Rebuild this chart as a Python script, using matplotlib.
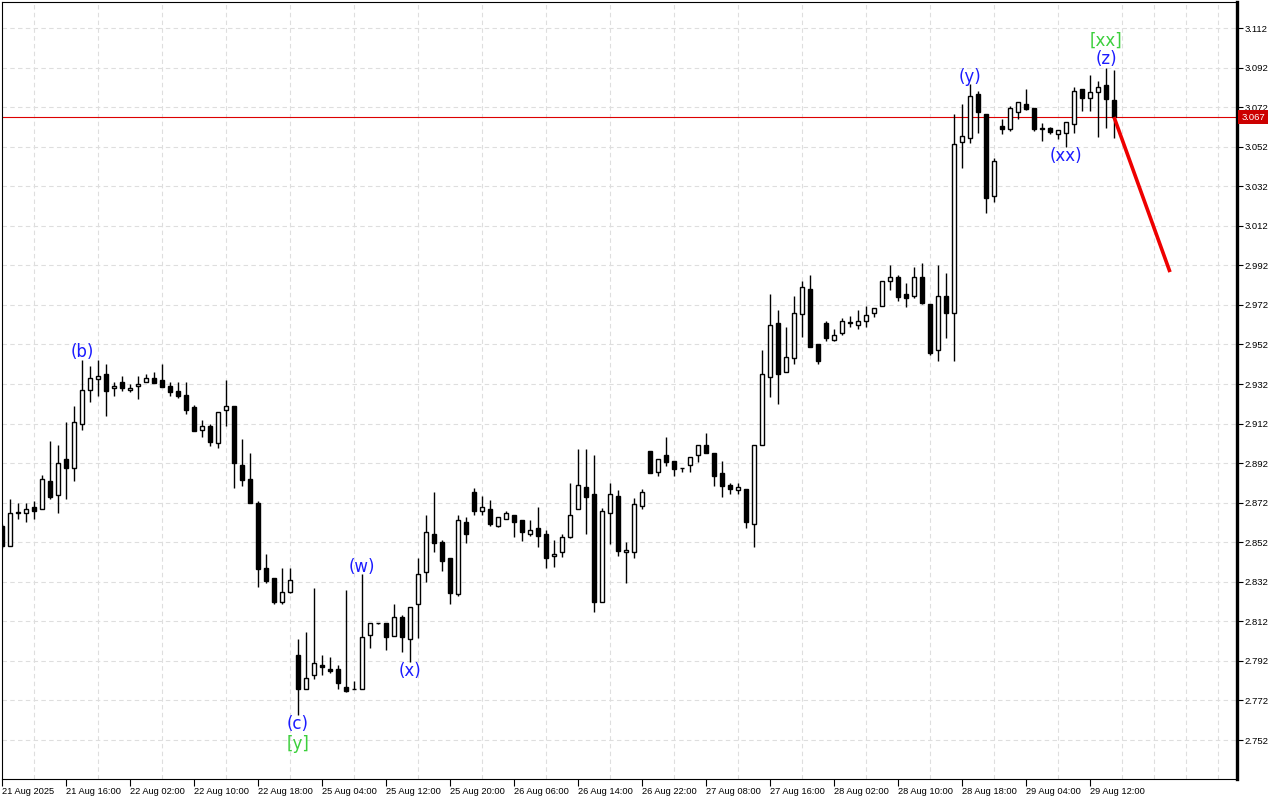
import numpy as np
import matplotlib
matplotlib.use("Agg")
import matplotlib.pyplot as plt
from matplotlib.transforms import blended_transform_factory

# hourly candles
opens = [2.860, 2.850, 2.867, 2.867, 2.870, 2.869, 2.883, 2.876, 2.894, 2.8895,
         2.912, 2.929, 2.9345, 2.937, 2.930, 2.933, 2.929, 2.931, 2.933, 2.935,
         2.934, 2.931, 2.9285, 2.9265, 2.9205, 2.909, 2.911, 2.902, 2.919, 2.921,
         2.891, 2.884, 2.872, 2.839, 2.834, 2.822, 2.827, 2.795, 2.778, 2.785,
         2.790, 2.788, 2.788, 2.779, 2.778, 2.778, 2.805, 2.811, 2.811, 2.8045,
         2.814, 2.803, 2.821, 2.837, 2.856, 2.852, 2.844, 2.826, 2.862, 2.8775,
         2.868, 2.869, 2.860, 2.864, 2.866, 2.863, 2.856, 2.859, 2.856, 2.845,
         2.847, 2.8545, 2.869, 2.880, 2.8765, 2.822, 2.867, 2.8755, 2.847, 2.847,
         2.8705, 2.898, 2.8875, 2.896, 2.893, 2.8895, 2.891, 2.896, 2.901, 2.897,
         2.887, 2.881, 2.8785, 2.879, 2.861, 2.901, 2.9355, 2.963, 2.938, 2.945,
         2.9675, 2.980, 2.952, 2.963, 2.9545, 2.958, 2.963, 2.962, 2.964, 2.968,
         2.9715, 2.984, 2.986, 2.9775, 2.9765, 2.986, 2.9725, 2.949, 2.9765, 2.968,
         3.0545, 3.0565, 3.0785, 3.0685, 3.027, 3.0625, 3.061, 3.0695, 3.0735, 3.0715,
         3.0615, 3.0615, 3.0585, 3.059, 3.0635, 3.081, 3.0765, 3.0795, 3.083, 3.0755]
highs = [2.861, 2.874, 2.872, 2.872, 2.873, 2.886, 2.903, 2.901, 2.913, 2.921,
         2.944, 2.941, 2.944, 2.942, 2.933, 2.936, 2.932, 2.936, 2.937, 2.938,
         2.942, 2.933, 2.933, 2.933, 2.9215, 2.914, 2.912, 2.918, 2.934, 2.921,
         2.904, 2.897, 2.873, 2.846, 2.834, 2.839, 2.839, 2.803, 2.8065, 2.829,
         2.795, 2.794, 2.790, 2.828, 2.782, 2.836, 2.811, 2.8112, 2.811, 2.821,
         2.815, 2.8195, 2.844, 2.866, 2.8775, 2.853, 2.844, 2.866, 2.865, 2.8795,
         2.8755, 2.8735, 2.865, 2.868, 2.866, 2.863, 2.863, 2.870, 2.858, 2.853,
         2.856, 2.882, 2.899, 2.899, 2.896, 2.8695, 2.882, 2.8785, 2.852, 2.8745,
         2.879, 2.898, 2.894, 2.905, 2.893, 2.8897, 2.895, 2.901, 2.907, 2.897,
         2.893, 2.882, 2.882, 2.879, 2.901, 2.949, 2.9775, 2.9695, 2.961, 2.9765,
         2.984, 2.987, 2.952, 2.964, 2.960, 2.9655, 2.9665, 2.9695, 2.9715, 2.9705,
         2.984, 2.992, 2.987, 2.983, 2.991, 2.993, 2.9725, 2.992, 2.988, 3.0685,
         3.0735, 3.0835, 3.080, 3.0685, 3.0465, 3.066, 3.0725, 3.0745, 3.081, 3.0715,
         3.064, 3.062, 3.0605, 3.0645, 3.082, 3.081, 3.088, 3.085, 3.092, 3.091]
lows = [2.849, 2.850, 2.864, 2.862, 2.864, 2.869, 2.874, 2.867, 2.874, 2.883,
        2.909, 2.923, 2.926, 2.916, 2.926, 2.9285, 2.928, 2.9245, 2.933, 2.9325,
        2.9305, 2.926, 2.925, 2.917, 2.908, 2.905, 2.9005, 2.8995, 2.911, 2.8795,
        2.8805, 2.872, 2.8295, 2.8315, 2.821, 2.821, 2.8265, 2.7645, 2.778, 2.783,
        2.785, 2.786, 2.778, 2.7765, 2.778, 2.778, 2.7985, 2.8108, 2.7975, 2.8045,
        2.7965, 2.7915, 2.8035, 2.832, 2.847, 2.8375, 2.821, 2.825, 2.8515, 2.866,
        2.866, 2.860, 2.8595, 2.864, 2.8545, 2.8525, 2.855, 2.8495, 2.839, 2.8395,
        2.8445, 2.854, 2.869, 2.856, 2.8165, 2.822, 2.851, 2.845, 2.8315, 2.844,
        2.869, 2.887, 2.8855, 2.8905, 2.8855, 2.8875, 2.8875, 2.8925, 2.897, 2.8805,
        2.875, 2.8765, 2.8765, 2.859, 2.8495, 2.901, 2.9255, 2.922, 2.938, 2.942,
        2.956, 2.9505, 2.942, 2.9535, 2.9535, 2.957, 2.961, 2.960, 2.961, 2.966,
        2.9715, 2.9795, 2.974, 2.971, 2.9755, 2.9725, 2.9465, 2.9435, 2.9555, 2.9435,
        3.041, 3.054, 3.059, 3.0185, 3.024, 3.0585, 3.060, 3.066, 3.0705, 3.060,
        3.055, 3.0585, 3.056, 3.052, 3.059, 3.070, 3.070, 3.057, 3.0615, 3.0565]
closes = [2.850, 2.867, 2.8675, 2.869, 2.868, 2.884, 2.875, 2.892, 2.8895, 2.913,
          2.929, 2.935, 2.936, 2.9285, 2.931, 2.930, 2.930, 2.932, 2.935, 2.9325,
          2.9305, 2.928, 2.926, 2.919, 2.908, 2.911, 2.9025, 2.918, 2.921, 2.892,
          2.8835, 2.872, 2.8385, 2.8325, 2.822, 2.827, 2.833, 2.778, 2.7835, 2.791,
          2.789, 2.787, 2.781, 2.777, 2.778, 2.804, 2.811, 2.811, 2.804, 2.814,
          2.804, 2.8195, 2.836, 2.857, 2.8515, 2.8425, 2.8265, 2.863, 2.856, 2.868,
          2.870, 2.861, 2.865, 2.867, 2.862, 2.857, 2.858, 2.855, 2.844, 2.846,
          2.8545, 2.866, 2.881, 2.875, 2.822, 2.868, 2.8765, 2.8475, 2.848, 2.8715,
          2.8775, 2.887, 2.894, 2.8925, 2.889, 2.8893, 2.895, 2.901, 2.897, 2.8855,
          2.8805, 2.879, 2.880, 2.862, 2.901, 2.937, 2.962, 2.937, 2.9455, 2.968,
          2.981, 2.9505, 2.9435, 2.9555, 2.957, 2.964, 2.9632, 2.964, 2.967, 2.9705,
          2.984, 2.986, 2.976, 2.9755, 2.986, 2.973, 2.9475, 2.9765, 2.968, 3.0535,
          3.0575, 3.0775, 3.0695, 3.026, 3.045, 3.061, 3.0715, 3.0745, 3.071, 3.061,
          3.061, 3.0595, 3.0605, 3.0645, 3.080, 3.0765, 3.0795, 3.082, 3.076, 3.067]

date_labels = ["21 Aug 2025", "21 Aug 16:00", "22 Aug 02:00", "22 Aug 10:00",
               "22 Aug 18:00", "25 Aug 04:00", "25 Aug 12:00", "25 Aug 20:00",
               "26 Aug 06:00", "26 Aug 14:00", "26 Aug 22:00", "27 Aug 08:00",
               "27 Aug 16:00", "28 Aug 02:00", "28 Aug 10:00", "28 Aug 18:00",
               "29 Aug 04:00", "29 Aug 12:00"]
price_ticks = [2.752, 2.772, 2.792, 2.812, 2.832, 2.852, 2.872, 2.892, 2.912, 2.932,
               2.952, 2.972, 2.992, 3.012, 3.032, 3.052, 3.072, 3.092, 3.112]
current_price = 3.067

# wave marks: text, bar index, price
wave_text = ["(b)", "(c)", "[y]", "(w)", "(x)", "(y)", "(xx)", "(z)", "[xx]"]
wave_bar = [10, 37, 37, 45, 51, 121, 133, 138, 138]
wave_price = [2.948, 2.7600, 2.7500, 2.8395, 2.7868, 3.0871, 3.0472, 3.0962, 3.1058]
wave_green = [False, False, True, False, False, False, False, False, True]

# forecast line
forecast_bar = [139, 146]
forecast_price = [3.067, 2.9886]

BLUE = "#1c1cff"
GREEN = "#3ccf3c"

fig = plt.figure(figsize=(12.8, 8), dpi=100)
ax = fig.add_axes([2 / 1280, 21 / 800, 1235 / 1280, 777 / 800])

idx = np.arange(len(opens))
o = np.array(opens)
c = np.array(closes)
h = np.maximum(np.array(highs), np.maximum(o, c))
l = np.minimum(np.array(lows), np.minimum(o, c))

ax.vlines(idx, l, h, color="black", lw=1.0, zorder=2)
up = c >= o
bottom = np.minimum(o, c)
height = np.maximum(np.abs(c - o), 0.00001)
ax.bar(idx[up], height[up], bottom=bottom[up], width=0.58, color="white",
       edgecolor="black", linewidth=1.0, zorder=3)
ax.bar(idx[~up], height[~up], bottom=bottom[~up], width=0.58, color="black",
       edgecolor="black", linewidth=1.0, zorder=3)

ax.axhline(current_price, color="#dd0000", lw=0.8, zorder=1)
ax.plot(forecast_bar, forecast_price, color="#ee0000", lw=2.6,
        solid_capstyle="butt", zorder=4)

for t, b, p, g in zip(wave_text, wave_bar, wave_price, wave_green):
    ax.text(b, p, t, color=GREEN if g else BLUE, fontsize=12, ha="center",
            va="center", family="DejaVu Sans", zorder=5)

ax.set_xlim(0, 154.375)
ax.set_ylim(2.7323, 3.12515)

# axes and grid
ax.yaxis.tick_right()
ax.set_yticks(price_ticks)
ax.set_yticklabels([f"{v:.3f}" for v in price_ticks], fontsize=6.8,
                   family="Liberation Sans")
ax.set_xticks(np.arange(0, 8 * len(date_labels), 8))
ax.set_xticklabels(date_labels, fontsize=6.7, family="Liberation Sans", ha="left")
ax.set_xticks(np.arange(0, 155, 4), minor=True)
ax.tick_params(axis="x", which="major", length=5, width=0.8, pad=1)
ax.tick_params(axis="x", which="minor", length=0)
ax.tick_params(axis="y", length=4, width=0.8, pad=1.5)

grid_style = dict(color="#dedede", linestyle=(0, (4, 3)), linewidth=0.8)
ax.grid(True, axis="y", which="major", **grid_style)
ax.grid(True, axis="x", which="minor", **grid_style)
ax.set_axisbelow(True)

for side in ["left", "top", "bottom"]:
    ax.spines[side].set_linewidth(0.8)
ax.spines["right"].set_linewidth(2.4)

trans = blended_transform_factory(ax.transAxes, ax.transData)
ax.text(1.0035, current_price, f"{current_price:.3f}", transform=trans,
        fontsize=6.8, family="Liberation Sans", color="white", ha="left",
        va="center", zorder=6,
        bbox=dict(boxstyle="square,pad=0.3", facecolor="#cc0000",
                  edgecolor="none"))

fig.savefig("out.png", dpi=100, facecolor="white")
